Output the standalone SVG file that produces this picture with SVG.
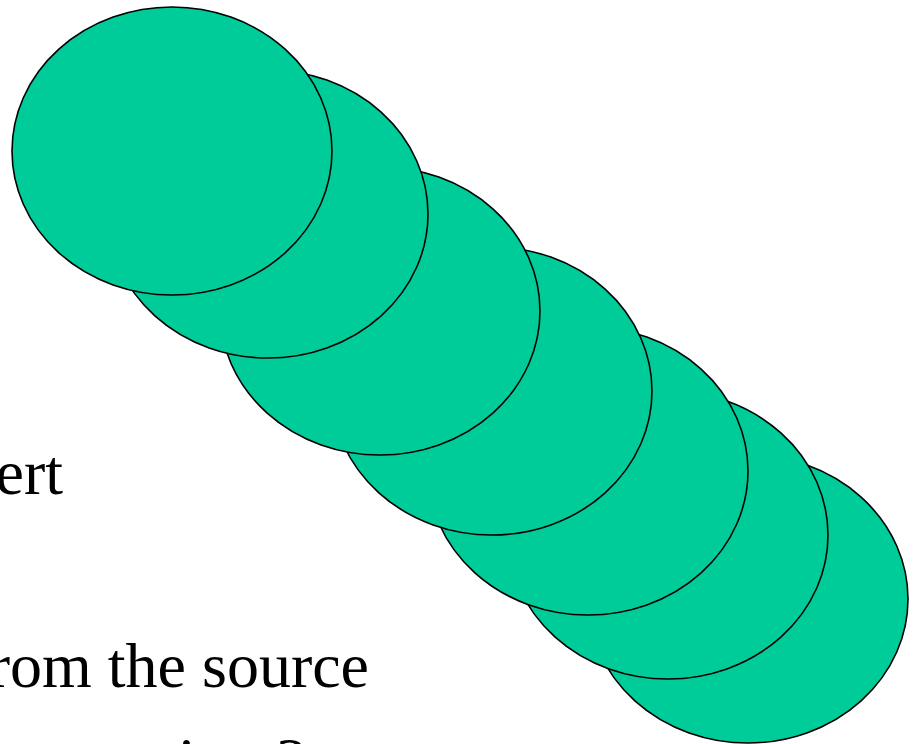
<svg xmlns="http://www.w3.org/2000/svg" width="919" height="744" viewBox="0 0 919 744">
<style>
.t{font-family:"Liberation Serif","Times New Roman",serif;font-size:64px;fill:#000}
.e{fill:#00CC99;stroke:#000;stroke-width:1.6}
</style>
<rect width="919" height="744" fill="#fff"/>
<g id="text">
<text class="t" x="63" y="494" text-anchor="end">ert</text>
<text class="t" x="369" y="687" text-anchor="end">rom the source</text>
<text class="t" y="782"><tspan x="178">i</tspan><tspan x="277">?</tspan></text>
</g>
<g id="ellipse7"><ellipse class="e" cx="748" cy="599" rx="160" ry="144"/></g>
<g id="ellipse6"><ellipse class="e" cx="668" cy="535" rx="160" ry="144"/></g>
<g id="ellipse5"><ellipse class="e" cx="588" cy="471" rx="160" ry="144"/></g>
<g id="ellipse4"><ellipse class="e" cx="492" cy="391" rx="160" ry="144"/></g>
<g id="ellipse3"><ellipse class="e" cx="380" cy="311" rx="160" ry="144"/></g>
<g id="ellipse2"><ellipse class="e" cx="268" cy="214" rx="160" ry="144"/></g>
<g id="ellipse1"><ellipse class="e" cx="172" cy="151" rx="160" ry="144"/></g>
</svg>
